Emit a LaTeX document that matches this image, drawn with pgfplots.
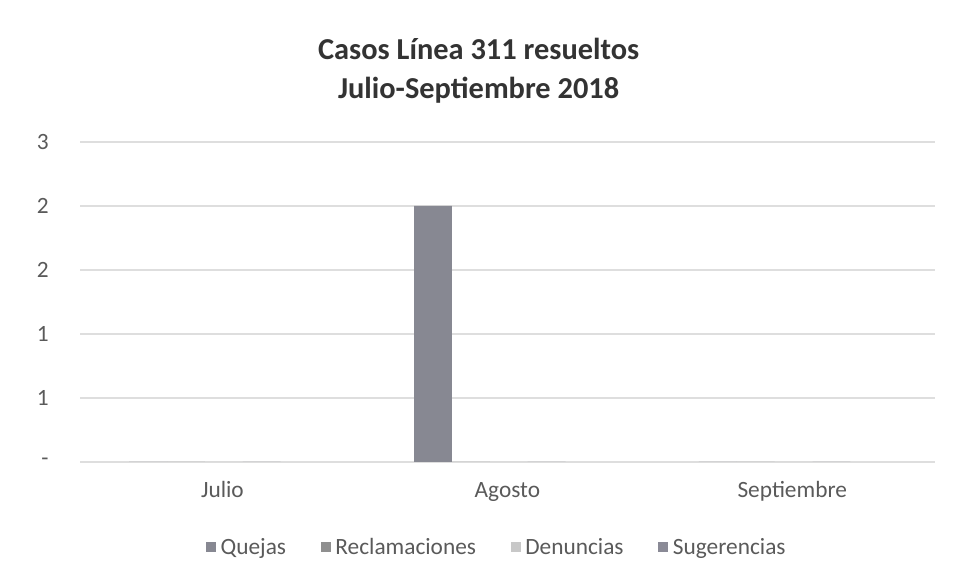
\documentclass[border=0pt]{standalone}
\usepackage{pgfplots}
\pgfplotsset{compat=1.18}
\usepackage{fontspec}
\setmainfont{Carlito}
\definecolor{cQ}{RGB}{135,136,146}
\definecolor{cR}{RGB}{143,143,143}
\definecolor{cD}{RGB}{200,200,200}
\definecolor{cS}{RGB}{138,138,150}
\definecolor{gridc}{RGB}{222,222,222}
\definecolor{txt}{RGB}{90,90,90}
\begin{document}
\begin{tikzpicture}
\useasboundingbox (0,0) rectangle (719.25pt,435pt);
\fill[white] (0,0) rectangle (719.25pt,435pt);
\begin{axis}[
  at={(60pt,88.5pt)}, anchor=south west,
  scale only axis, width=641pt, height=240pt,
  ybar, bar width=0.133,
  xmin=-0.5, xmax=2.5, ymin=0, ymax=2.5,
  xtick={0,1,2}, xticklabels={Julio,Agosto,Septiembre},
  ytick={0,0.5,1,1.5,2,2.5}, yticklabels={-,1,1,2,2,3},
  major tick length=0pt,
  axis line style={draw=none},
  ymajorgrids, grid style={gridc, line width=0.8pt},
  tick label style={font=\fontsize{17.5}{20}\selectfont, text=txt},
  xticklabel style={yshift=-11pt, text height=12pt, text depth=3pt},
  yticklabel style={xshift=-20pt},
  /pgf/number format/assume math mode=true,
  legend columns=4,
  legend style={draw=none, fill=none, at={(0.488,-0.266)}, anchor=center,
    font=\fontsize{17.5}{20}\selectfont, text=txt,
    /tikz/every even column/.append style={column sep=24pt}},
  legend image code/.code={\fill[#1] (0pt,-3.5pt) rectangle (7.5pt,4pt);},
  legend cell align=left,
]
\addplot[fill=cQ, draw=none, bar shift=-0.261] coordinates {(0,0) (1,2) (2,0)};
\addplot[fill=cR, draw=none, bar shift=-0.128] coordinates {(0,0) (1,0) (2,0)};
\addplot[fill=cD, draw=none, bar shift=0.005] coordinates {(0,0) (1,0) (2,0)};
\addplot[fill=cS, draw=none, bar shift=0.138] coordinates {(0,0) (1,0) (2,0)};
\legend{\hspace{1.5pt}Quejas,\hspace{1.5pt}Reclamaciones,\hspace{1.5pt}Denuncias,\hspace{1.5pt}Sugerencias}
\end{axis}
\node[font=\fontsize{22.8}{29}\selectfont\bfseries, text=black!80, align=center] at (359pt,382pt) {Casos Línea 311 resueltos\\Julio-Septiembre 2018};
\end{tikzpicture}
\end{document}
